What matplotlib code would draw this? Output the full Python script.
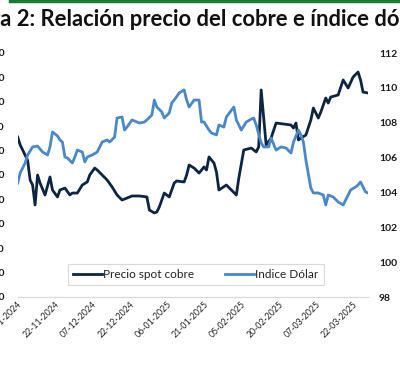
import matplotlib
matplotlib.use("Agg")
import matplotlib.pyplot as plt
import matplotlib.dates as mdates
from matplotlib.ticker import FuncFormatter
from matplotlib.lines import Line2D
import pandas as pd
import numpy as np

# días desde el 07-11-2024 y valores
start = pd.Timestamp("2024-11-07")

copper_days = [0, 1, 2, 4, 5, 6, 7, 8, 9, 11, 13, 14, 16, 17, 19, 21, 22, 24, 26, 28,
               29, 31, 32, 34, 36, 38, 40, 42, 44, 46, 49, 52, 53, 55, 56, 57, 59, 61, 63, 64,
               67, 68, 69, 71, 73, 75, 76, 77, 79, 80, 81, 84, 86, 88, 89, 91, 94, 96, 97, 98,
               100, 102, 104, 107, 110, 111, 112, 113, 114, 116, 118, 119, 121, 122, 124, 125,
               126, 129, 131, 133, 135, 137, 138, 139, 141]
copper_vals = [9311, 9246, 9205, 9120, 8959, 8918, 8754, 9000, 8934, 8836, 8984, 8877, 8820,
               8877, 8893, 8836, 8852, 8852, 8918, 8943, 9000, 9057, 9041, 9000, 8959, 8902,
               8836, 8795, 8811, 8828, 8828, 8820, 8713, 8689, 8697, 8738, 8852, 8820, 8934,
               8951, 8943, 9000, 9082, 9057, 9016, 9066, 9041, 9148, 9098, 9025, 8877, 8918,
               8877, 8836, 8975, 9205, 9221, 9189, 9230, 9697, 9246, 9303, 9426, 9418, 9410,
               9385, 9426, 9287, 9303, 9328, 9451, 9549, 9467, 9516, 9631, 9590, 9639, 9656,
               9779, 9713, 9803, 9844, 9779, 9680, 9672]

dollar_days = [0, 1, 3, 4, 6, 8, 10, 12, 13, 14, 16, 17, 18, 19, 20, 22, 23, 24, 26, 27,
               28, 30, 32, 34, 36, 37, 39, 40, 42, 43, 44, 46, 48, 49, 51, 52, 54, 55, 56, 58,
               59, 61, 62, 63, 65, 67, 68, 69, 71, 73, 74, 75, 77, 78, 80, 81, 83, 84, 87, 88,
               90, 92, 94, 95, 96, 98, 99, 101, 102, 104, 106, 108, 110, 111, 113, 114, 115,
               116, 118, 119, 121, 123, 124, 125, 127, 129, 131, 133, 134, 136, 137, 138, 140, 141]
dollar_vals = [104.54, 105.12, 105.69, 106.15, 106.61, 106.66, 106.32, 106.15, 106.61, 107.47,
               107.24, 107.01, 106.89, 106.03, 105.98, 105.69, 106.03, 106.43, 106.32, 105.75,
               106.03, 106.15, 106.32, 106.89, 107.01, 106.89, 107.18, 108.27, 108.33, 107.58,
               107.75, 108.16, 108.04, 107.98, 108.04, 108.16, 108.44, 109.30, 108.90, 108.62,
               108.27, 108.56, 109.13, 109.30, 109.71, 109.88, 109.30, 108.90, 109.30, 109.30,
               108.04, 108.04, 107.58, 107.41, 107.30, 107.87, 107.75, 108.33, 108.90, 108.16,
               107.58, 108.04, 108.21, 108.27, 107.87, 106.84, 106.61, 106.61, 107.12, 106.43,
               106.61, 106.55, 106.26, 106.89, 107.58, 107.30, 106.89, 105.86, 104.25, 103.97,
               103.97, 103.85, 103.28, 103.85, 103.74, 103.45, 103.28, 103.85, 104.14, 104.31,
               104.43, 104.60, 104.03, 103.97]

left_ticks = list(range(8000, 10001, 200))
right_ticks = list(range(98, 113, 2))
title = "Figura 2: Relación precio del cobre e índice dólar"

copper_dates = start + pd.to_timedelta(copper_days, unit="D")
dollar_dates = start + pd.to_timedelta(dollar_days, unit="D")

plt.rcParams['font.family'] = ['Lato', 'DejaVu Sans']

fig = plt.figure(figsize=(4, 3.83), dpi=100)
ax = fig.add_axes([17.7 / 400, 1 - 297 / 383, (368 - 17.7) / 400, 244 / 383])
ax2 = ax.twinx()

navy = "#0e2541"
blue = "#4a88c7"
ax.plot(copper_dates, copper_vals, color=navy, lw=2.0, label="Precio spot cobre", zorder=3)
ax2.plot(dollar_dates, dollar_vals, color=blue, lw=2.0, label="Indice Dólar")

ax.set_ylim(8000, 10000)
ax2.set_ylim(98, 112)
ax.set_yticks(left_ticks)
ax2.set_yticks(right_ticks)
ax.yaxis.set_major_formatter(FuncFormatter(lambda v, p: f"{int(v):,}".replace(",", ".")))

ax.set_xlim(start, start + pd.Timedelta(days=141))
xt = [start + pd.Timedelta(days=15 * i) for i in range(10)]
ax.set_xticks(xt)
ax.xaxis.set_major_formatter(mdates.DateFormatter("%d-%m-%Y"))

for a in (ax, ax2):
    for s in a.spines.values():
        s.set_visible(False)
    a.tick_params(length=0)
ax.spines["bottom"].set_visible(True)
ax.spines["bottom"].set_color("#d9d9d9")
ax.spines["bottom"].set_linewidth(0.9)

ax.tick_params(axis="y", pad=9.4, labelsize=7.5, labelcolor="#1a1a1a")
ax2.tick_params(axis="y", pad=8, labelsize=7.5, labelcolor="#1a1a1a")
for lab in ax.get_yticklabels() + ax2.get_yticklabels():
    lab.set_fontweight("bold")
ax.tick_params(axis="x", pad=2, labelsize=6.3, labelcolor="#222222")
for lab in ax.get_xticklabels():
    lab.set_rotation(45)
    lab.set_ha("right")
    lab.set_rotation_mode("anchor")

h1, l1 = ax.get_legend_handles_labels()
h2, l2 = ax2.get_legend_handles_labels()
leg = fig.legend(h1 + h2, l1 + l2, loc="center", bbox_to_anchor=(196 / 400, 1 - 274.5 / 383),
                 ncol=2, frameon=True, fancybox=False, edgecolor="#d0d0d0", fontsize=8.5,
                 handlelength=2.4, columnspacing=2.6, handletextpad=0.15, borderpad=0.45)
leg.get_frame().set_linewidth(0.8)
for t in leg.get_texts():
    t.set_color("#222222")

# barra verde superior
fig.add_artist(Line2D([10 / 400, 1], [1 - 1 / 383, 1 - 1 / 383], color="#1f7a3a", lw=2.5,
                      transform=fig.transFigure))

# título recortado por el borde de la imagen: "a 2: ... índice do" ocupa el ancho visible
tprops = dict(fontweight="bold", color="#111111")
renderer = fig.canvas.get_renderer()
tmp = fig.text(0, 0, "a 2: Relación precio del cobre e índice do", fontsize=10, **tprops)
wvis = tmp.get_window_extent(renderer).width
tmp.remove()
tsize = 10 * 400 / wvis
tmp = fig.text(0, 0, "Figur", fontsize=tsize, **tprops)
w = tmp.get_window_extent(renderer).width
tmp.remove()
fig.text(-w / 400, 1 - 20 / 383, title, ha="left", va="center", fontsize=tsize, **tprops)

fig.savefig("out.png", dpi=100)
